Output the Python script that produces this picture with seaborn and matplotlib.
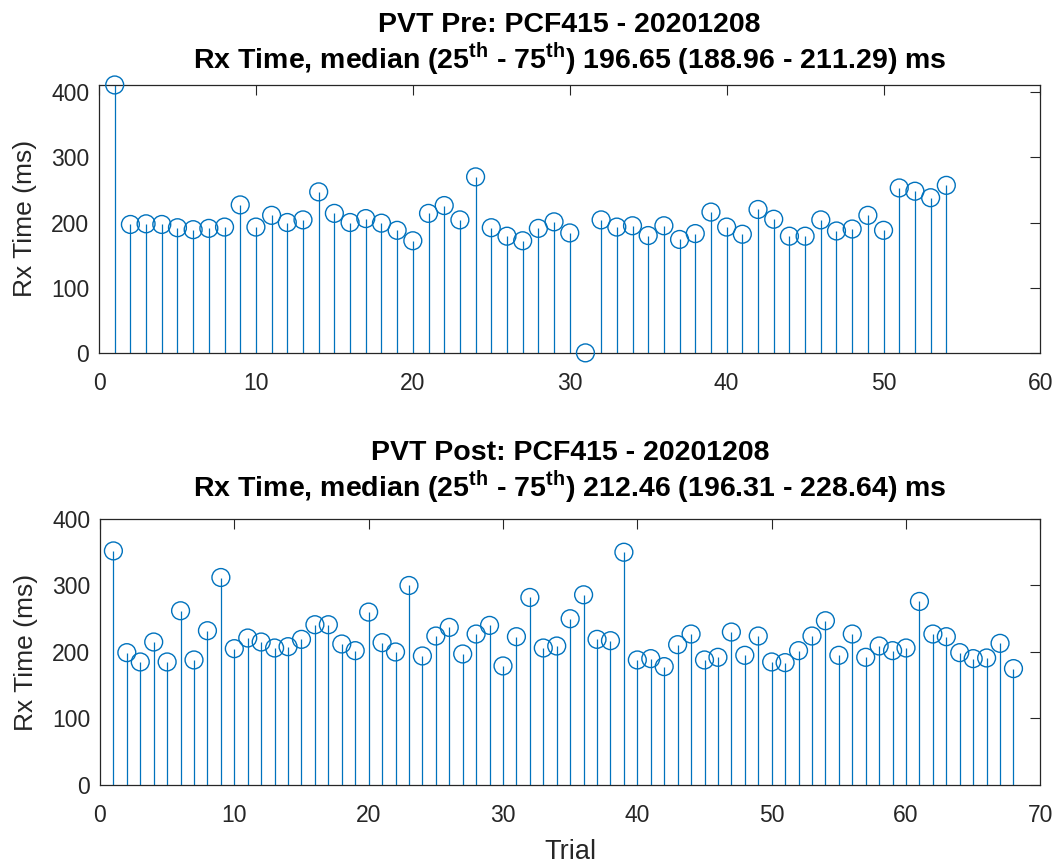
import numpy as np
import pandas as pd
import matplotlib
matplotlib.use("Agg")
import matplotlib.pyplot as plt
import seaborn as sns

# ---- data ----
pre_title = "PVT Pre: PCF415 - 20201208"
pre_stats = "196.65 (188.96 - 211.29) ms"
pre_values = [411, 197, 198, 197, 192, 189, 191, 193, 227, 193,
              211, 200, 204, 247, 214, 200, 206, 199, 188, 172,
              214, 226, 204, 270, 192, 179, 172, 191, 201, 184,
              0, 204, 193, 195, 180, 195, 174, 183, 216, 193,
              182, 220, 205, 179, 179, 204, 187, 190, 211, 188,
              253, 248, 238, 257]

post_title = "PVT Post: PCF415 - 20201208"
post_stats = "212.46 (196.31 - 228.64) ms"
post_values = [352, 199, 185, 215, 185, 262, 188, 232, 312, 205,
               221, 215, 206, 208, 219, 241, 241, 212, 202, 260,
               214, 200, 300, 194, 224, 237, 197, 227, 240, 179,
               223, 282, 206, 209, 250, 286, 219, 217, 350, 188,
               190, 178, 211, 227, 188, 192, 230, 195, 224, 185,
               184, 202, 224, 247, 195, 227, 192, 209, 202, 206,
               276, 227, 223, 199, 190, 191, 213, 175]

pre_xticks = [0, 10, 20, 30, 40, 50, 60]
post_xticks = [0, 10, 20, 30, 40, 50, 60, 70]
yticks = [0, 100, 200, 300, 400]

color = "#0072BD"
axcol = "#262626"

sns.set_theme(style="white")
plt.rcParams["font.family"] = ["Liberation Sans", "DejaVu Sans"]
plt.rcParams["mathtext.fontset"] = "custom"
plt.rcParams["mathtext.bf"] = "Liberation Sans:bold"
plt.rcParams["mathtext.rm"] = "Liberation Sans:bold"

fig = plt.figure(figsize=(10.59, 8.67), dpi=100)
ax1 = fig.add_axes([0.0935, 0.593, 0.889, 0.309])
ax2 = fig.add_axes([0.0944, 0.0946, 0.888, 0.3068])

title_font = ["Liberation Sans", "DejaVu Sans"]


def panel(ax, values, xticks, ylim_top, title, stats, y1, y2, xlabel):
    df = pd.DataFrame({"Trial": np.arange(1, len(values) + 1), "Rx": values})
    ax.vlines(df["Trial"], 0, df["Rx"], color=color, linewidth=0.9, zorder=2)
    sns.scatterplot(data=df, x="Trial", y="Rx", ax=ax, marker="o", s=165,
                    facecolor="none", edgecolor=color, linewidth=1.0,
                    zorder=3, clip_on=False)
    ax.set_xlim(xticks[0], xticks[-1])
    ax.set_ylim(0, ylim_top)
    ax.set_xticks(xticks)
    ax.set_yticks(yticks)
    ax.tick_params(direction="in", length=7, width=0.8, colors=axcol,
                   labelsize=16.5, top=True, right=True)
    ax.tick_params(axis="y", pad=7)
    ax.tick_params(axis="x", pad=14)
    for sp in ax.spines.values():
        sp.set_color(axcol)
        sp.set_linewidth(0.9)
    ax.set_ylabel("Rx Time (ms)", fontsize=19, color=axcol, labelpad=10)
    ax.set_xlabel(xlabel, fontsize=19.5, color=axcol, labelpad=8)
    ax.text(0.5, y1, title, transform=ax.transAxes, ha="center",
            va="baseline", fontsize=20.5, fontweight="bold",
            family=title_font, color="black")
    ax.text(0.5, y2,
            r"Rx Time, median (25$^{\mathbf{th}}$ - 75$^{\mathbf{th}}$) " + stats,
            transform=ax.transAxes, ha="center", va="baseline",
            fontsize=20.5, fontweight="bold", family=title_font,
            color="black")


panel(ax1, pre_values, pre_xticks, 411, pre_title, pre_stats, 1.198, 1.060, "")
panel(ax2, post_values, post_xticks, 400, post_title, post_stats, 1.222, 1.083, "Trial")

fig.savefig("out.png", dpi=100, facecolor="white")
